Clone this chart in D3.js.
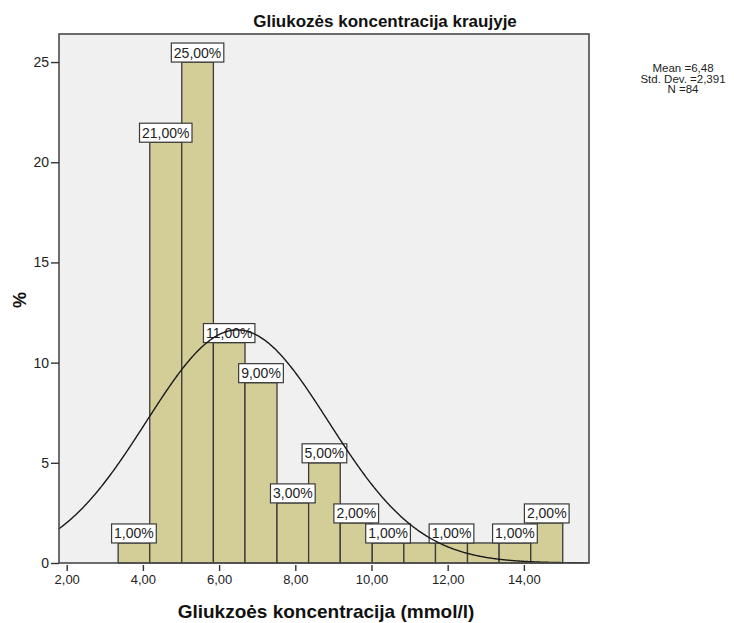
<!DOCTYPE html>
<html>
<head>
<meta charset="utf-8">
<script src="https://cdn.jsdelivr.net/npm/d3@7"></script>
<style>
  html, body { margin: 0; padding: 0; background: #ffffff; }
  svg { display: block; font-family: "Liberation Sans", Arial, sans-serif; }
</style>
</head>
<body>
<svg id="chart" width="734" height="623"></svg>
<script>
// Histogram bins (mmol/l) and their percentages
const binEdges = [3.35, 4.18, 5.02, 5.85, 6.68, 7.52, 8.35, 9.18, 10.02, 10.85, 11.68, 12.52, 13.35, 14.18, 15.02];
const percents = [1, 21, 25, 11, 9, 3, 5, 2, 1, 1, 1, 1, 1, 2];
const showLabel = [true, true, true, true, true, true, true, true, true, false, true, false, true, true];

// Summary statistics
const mean = 6.48;
const stdDev = 2.391;
const nCases = 84;

// Axis ticks
const xTicks = [2, 4, 6, 8, 10, 12, 14];
const yTicks = [0, 5, 10, 15, 20, 25];

const title = "Gliukozės koncentracija kraujyje";
const xTitle = "Gliukzoės koncentracija (mmol/l)";
const yTitle = "%";

const fmt = v => d3.format(".2f")(v).replace(".", ",");

const svg = d3.select("#chart");
const plot = { left: 59, right: 589, top: 34, bottom: 563 };

const x = d3.scaleLinear().domain([1.798, 15.709]).range([plot.left, plot.right]);
const y = d3.scaleLinear().domain([0, 26.4]).range([plot.bottom, plot.top]);

// Plot background
svg.append("rect")
  .attr("x", plot.left).attr("y", plot.top)
  .attr("width", plot.right - plot.left).attr("height", plot.bottom - plot.top)
  .attr("fill", "#f0f0f0");

const bins = percents.map((p, i) => ({ x0: binEdges[i], x1: binEdges[i + 1], p, label: showLabel[i] }));

// Bars
svg.append("g").selectAll("rect").data(bins).join("rect")
  .attr("x", d => x(d.x0))
  .attr("y", d => y(d.p))
  .attr("width", d => x(d.x1) - x(d.x0))
  .attr("height", d => y(0) - y(d.p))
  .attr("fill", "#d3ce98")
  .attr("stroke", "#3a3a3a")
  .attr("stroke-width", 1.3);

// Value labels in white boxes
const lab = svg.append("g").selectAll("g").data(bins.filter(d => d.label)).join("g");
lab.each(function (d) {
  const g = d3.select(this);
  const cx = (x(d.x0) + x(d.x1)) / 2;
  const top = y(d.p);
  const box = g.append("rect");
  const t = g.append("text")
    .attr("x", cx).attr("y", top - 4.5)
    .attr("text-anchor", "middle")
    .attr("font-size", 14)
    .attr("fill", "#222")
    .text(fmt(d.p) + "%");
  const w = t.node().getComputedTextLength() + 5;
  box.attr("x", cx - w / 2).attr("y", top - 19)
    .attr("width", w).attr("height", 19)
    .attr("fill", "#ffffff")
    .attr("stroke", "#3a3a3a")
    .attr("stroke-width", 1.2);
});

// Normal curve scaled to counts per bin width
const binW = binEdges[1] - binEdges[0];
const pdf = v => Math.exp(-0.5 * ((v - mean) / stdDev) ** 2) / (stdDev * Math.sqrt(2 * Math.PI));
const curvePts = d3.range(x.domain()[0], x.domain()[1] + 0.001, 0.02).map(v => [v, nCases * binW * pdf(v)]);
svg.append("path")
  .datum(curvePts)
  .attr("fill", "none")
  .attr("stroke", "#1a1a1a")
  .attr("stroke-width", 1.4)
  .attr("d", d3.line().x(d => x(d[0])).y(d => y(d[1])));

// Frame
svg.append("rect")
  .attr("x", plot.left).attr("y", plot.top)
  .attr("width", plot.right - plot.left).attr("height", plot.bottom - plot.top)
  .attr("fill", "none")
  .attr("stroke", "#4a4a4a")
  .attr("stroke-width", 1.6);

// Y axis
const yAxis = svg.append("g")
  .attr("transform", `translate(${plot.left},0)`)
  .call(d3.axisLeft(y).tickValues(yTicks).tickSize(8).tickPadding(2).tickFormat(d3.format("d")));
yAxis.select(".domain").remove();
yAxis.selectAll("line").attr("stroke", "#333").attr("stroke-width", 1.4);
yAxis.selectAll("text").attr("font-size", 14).attr("fill", "#222").attr("font-family", "Liberation Sans, Arial, sans-serif");

// X axis
const xAxis = svg.append("g")
  .attr("transform", `translate(0,${plot.bottom + 2})`)
  .call(d3.axisBottom(x).tickValues(xTicks).tickSize(6).tickPadding(4).tickFormat(fmt));
xAxis.select(".domain").remove();
xAxis.selectAll("line").attr("stroke", "#333").attr("stroke-width", 1.4);
xAxis.selectAll("text").attr("font-size", 13).attr("fill", "#222").attr("font-family", "Liberation Sans, Arial, sans-serif");

// Titles
svg.append("text")
  .attr("x", 385).attr("y", 27)
  .attr("text-anchor", "middle")
  .attr("font-size", 17).attr("font-weight", "bold").attr("fill", "#111")
  .text(title);

svg.append("text")
  .attr("x", 326).attr("y", 618)
  .attr("text-anchor", "middle")
  .attr("font-size", 19).attr("font-weight", "bold").attr("fill", "#111")
  .text(xTitle);

svg.append("text")
  .attr("transform", `translate(26,300) rotate(-90)`)
  .attr("text-anchor", "middle")
  .attr("font-size", 18).attr("font-weight", "bold").attr("fill", "#111")
  .text(yTitle);

// Statistics block
const stats = [
  "Mean =" + d3.format(".2f")(mean).replace(".", ","),
  "Std. Dev. =" + d3.format(".3f")(stdDev).replace(".", ","),
  "N =" + nCases
];
svg.append("g").selectAll("text").data(stats).join("text")
  .attr("x", 683)
  .attr("y", (d, i) => 72 + i * 10.5)
  .attr("text-anchor", "middle")
  .attr("font-size", 11.5)
  .attr("fill", "#222")
  .text(d => d);
</script>
</body>
</html>
